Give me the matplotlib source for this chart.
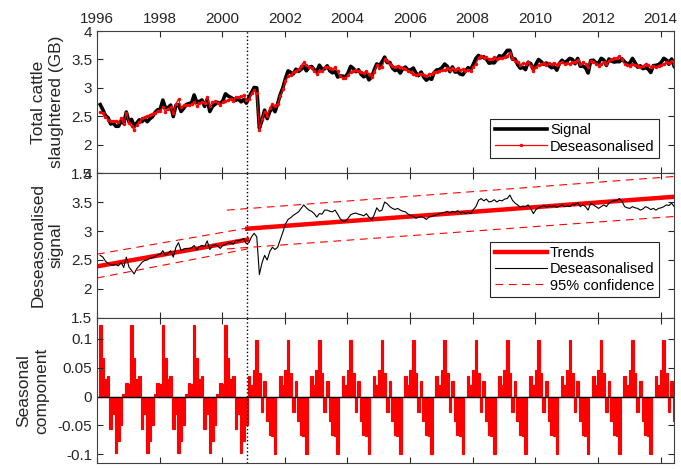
import numpy as np
import matplotlib.pyplot as plt

plt.rcParams['font.family'] = ['Liberation Sans', 'DejaVu Sans']
plt.rcParams['axes.unicode_minus'] = False

# deseasonalised series, monthly, Jan 1996 .. May 2014
des_1996 = [2.58, 2.55, 2.48, 2.44, 2.42, 2.41, 2.42, 2.40, 2.46, 2.37, 2.55, 2.38]
des_1997 = [2.32, 2.26, 2.35, 2.40, 2.46, 2.49, 2.50, 2.53, 2.54, 2.56, 2.59, 2.60]
des_1998 = [2.66, 2.58, 2.62, 2.66, 2.55, 2.72, 2.80, 2.66, 2.69, 2.70, 2.70, 2.71]
des_1999 = [2.75, 2.68, 2.73, 2.75, 2.73, 2.83, 2.68, 2.75, 2.76, 2.74, 2.70, 2.75]
des_2000 = [2.77, 2.79, 2.80, 2.77, 2.84, 2.83, 2.85, 2.87, 2.78, 2.80, 2.90, 2.96]
des_2001 = [2.90, 2.25, 2.45, 2.58, 2.50, 2.65, 2.72, 2.68, 2.72, 2.85, 2.98, 3.12]
des_2002 = [3.20, 3.23, 3.27, 3.30, 3.33, 3.39, 3.45, 3.40, 3.36, 3.34, 3.30, 3.24]
des_2003 = [3.30, 3.29, 3.36, 3.36, 3.34, 3.33, 3.36, 3.29, 3.21, 3.17, 3.17, 3.22]
des_2004 = [3.28, 3.30, 3.31, 3.29, 3.28, 3.26, 3.30, 3.24, 3.19, 3.28, 3.40, 3.34]
des_2005 = [3.36, 3.50, 3.47, 3.42, 3.39, 3.37, 3.39, 3.36, 3.34, 3.33, 3.29, 3.27]
des_2006 = [3.25, 3.22, 3.24, 3.25, 3.23, 3.20, 3.24, 3.25, 3.27, 3.28, 3.30, 3.31]
des_2007 = [3.32, 3.34, 3.31, 3.34, 3.32, 3.35, 3.31, 3.33, 3.30, 3.32, 3.30, 3.37]
des_2008 = [3.42, 3.53, 3.56, 3.52, 3.55, 3.50, 3.51, 3.54, 3.50, 3.53, 3.52, 3.55]
des_2009 = [3.56, 3.62, 3.53, 3.48, 3.45, 3.41, 3.43, 3.42, 3.45, 3.39, 3.30, 3.37]
des_2010 = [3.40, 3.42, 3.44, 3.41, 3.43, 3.42, 3.44, 3.41, 3.43, 3.45, 3.42, 3.43]
des_2011 = [3.42, 3.46, 3.45, 3.49, 3.42, 3.45, 3.42, 3.36, 3.48, 3.45, 3.42, 3.39]
des_2012 = [3.42, 3.45, 3.42, 3.48, 3.51, 3.52, 3.53, 3.56, 3.51, 3.42, 3.40, 3.39]
des_2013 = [3.42, 3.40, 3.39, 3.36, 3.38, 3.42, 3.40, 3.37, 3.39, 3.36, 3.39, 3.40]
des_2014 = [3.42, 3.45, 3.44, 3.48, 3.42]

# seasonal component per calendar month (Jan..Dec), before and after the break
season_pre = [0.124, 0.066, 0.030, 0.036, -0.057, -0.030, -0.097, -0.077, -0.050, 0.005, 0.024, 0.022]
season_post = [0.098, 0.040, -0.026, 0.027, -0.042, -0.066, -0.068, -0.100, 0.000, 0.035, 0.020, 0.046]
n_pre = 57          # months before the break (Jan 1996 .. Sep 2000)
t_break = 2000.8

# fitted trends and 95% bands (end points)
trend_pre_t = [1996.0, 2000.8]
trend_pre = [2.39, 2.85]
trend_post_t = [2000.8, 2014.43]
trend_post = [3.04, 3.59]
band_pre_t = [1996.0, 2000.8]
band_pre_hi = [2.60, 3.05]
band_pre_lo = [2.19, 2.69]
band_post_t = [2000.15, 2014.43]
band_post_hi = [3.36, 3.94]
band_post_lo = [2.69, 3.25]

deseas = np.array(des_1996 + des_1997 + des_1998 + des_1999 + des_2000 + des_2001 +
                  des_2002 + des_2003 + des_2004 + des_2005 + des_2006 + des_2007 +
                  des_2008 + des_2009 + des_2010 + des_2011 + des_2012 + des_2013 + des_2014)
n = len(deseas)
idx = np.arange(n)
t = 1996 + (idx + 1.25) / 12.0
seasonal = np.array([season_pre[i % 12] if i < n_pre else season_post[i % 12] for i in idx])
signal = deseas + seasonal

txt = '#262626'
xmin, xmax = 1996, 2014.43

fig = plt.figure(figsize=(6.81, 4.69), dpi=100)
ax1 = fig.add_axes([0.1424, 0.6311, 0.8473, 0.3028])
ax2 = fig.add_axes([0.1424, 0.3220, 0.8473, 0.3091])
ax3 = fig.add_axes([0.1424, 0.0128, 0.8473, 0.3092])

# top: signal + deseasonalised
ax1.plot(t, signal, color='black', lw=2.6, label='Signal')
ax1.plot(t, deseas, color='red', lw=0.9, marker='.', ms=3, label='Deseasonalised')
ax1.set_ylim(1.5, 4)
ax1.set_yticks([1.5, 2, 2.5, 3, 3.5, 4])
ax1.set_yticklabels(['1.5', '2', '2.5', '3', '3.5', '4'])
ax1.set_ylabel('Total cattle\nslaughtered (GB)', fontsize=12.5, color=txt)
ax1.yaxis.set_label_coords(-0.058, 0.5)
leg1 = ax1.legend(loc='lower right', bbox_to_anchor=(0.974, 0.106), fontsize=10.5,
                  fancybox=False, edgecolor=txt, framealpha=1, handlelength=3.6,
                  handletextpad=0.2, borderpad=0.3, labelspacing=0.15, borderaxespad=0)
leg1.get_frame().set_linewidth(0.8)

# middle: trends
ax2.plot(trend_pre_t, trend_pre, color='red', lw=3.2, label='Trends')
ax2.plot(trend_post_t, trend_post, color='red', lw=3.2)
ax2.plot(t, deseas, color='black', lw=0.8, label='Deseasonalised')
ax2.plot(band_pre_t, band_pre_hi, color='red', lw=0.8, ls=(0, (7, 5)), label='95% confidence')
ax2.plot(band_pre_t, band_pre_lo, color='red', lw=0.8, ls=(0, (7, 5)))
ax2.plot(band_post_t, band_post_hi, color='red', lw=0.8, ls=(0, (7, 5)))
ax2.plot(band_post_t, band_post_lo, color='red', lw=0.8, ls=(0, (7, 5)))
ax2.set_ylim(1.5, 4)
ax2.set_yticks([1.5, 2, 2.5, 3, 3.5, 4])
ax2.set_yticklabels(['1.5', '2', '2.5', '3', '3.5', '4'])
ax2.set_ylabel('Deseasonalised\nsignal', fontsize=12.5, color=txt)
ax2.yaxis.set_label_coords(-0.058, 0.5)
leg2 = ax2.legend(loc='lower right', bbox_to_anchor=(0.974, 0.145), fontsize=10.5,
                  fancybox=False, edgecolor=txt, framealpha=1, handlelength=3.6,
                  handletextpad=0.2, borderpad=0.3, labelspacing=0.15, borderaxespad=0)
leg2.get_frame().set_linewidth(0.8)

# bottom: seasonal component
ax3.bar(t, seasonal, width=1 / 12.0, color='red', edgecolor='red', lw=0.8)
ax3.axhline(0, color='black', lw=1)
ax3.set_ylim(-0.115, 0.136)
ax3.set_yticks([-0.1, -0.05, 0, 0.05, 0.1])
ax3.set_yticklabels(['-0.1', '-0.05', '0', '0.05', '0.1'])
ax3.set_ylabel('Seasonal\ncomponent', fontsize=12.5, color=txt)
ax3.yaxis.set_label_coords(-0.083, 0.5)

years = list(range(1996, 2015, 2))
for ax in (ax1, ax2, ax3):
    ax.axvline(t_break, color='black', ls=':', lw=1)
    ax.set_xlim(xmin, xmax)
    ax.set_xticks(years)
    ax.tick_params(direction='in', length=4, width=0.8, top=True, right=True,
                   labelsize=11, colors=txt, labelbottom=False)
    for s in ax.spines.values():
        s.set_color('#404040')
        s.set_linewidth(0.8)
ax1.tick_params(labeltop=True)
ax1.set_xticklabels([str(y) for y in years])

fig.savefig('out.png', dpi=100)
